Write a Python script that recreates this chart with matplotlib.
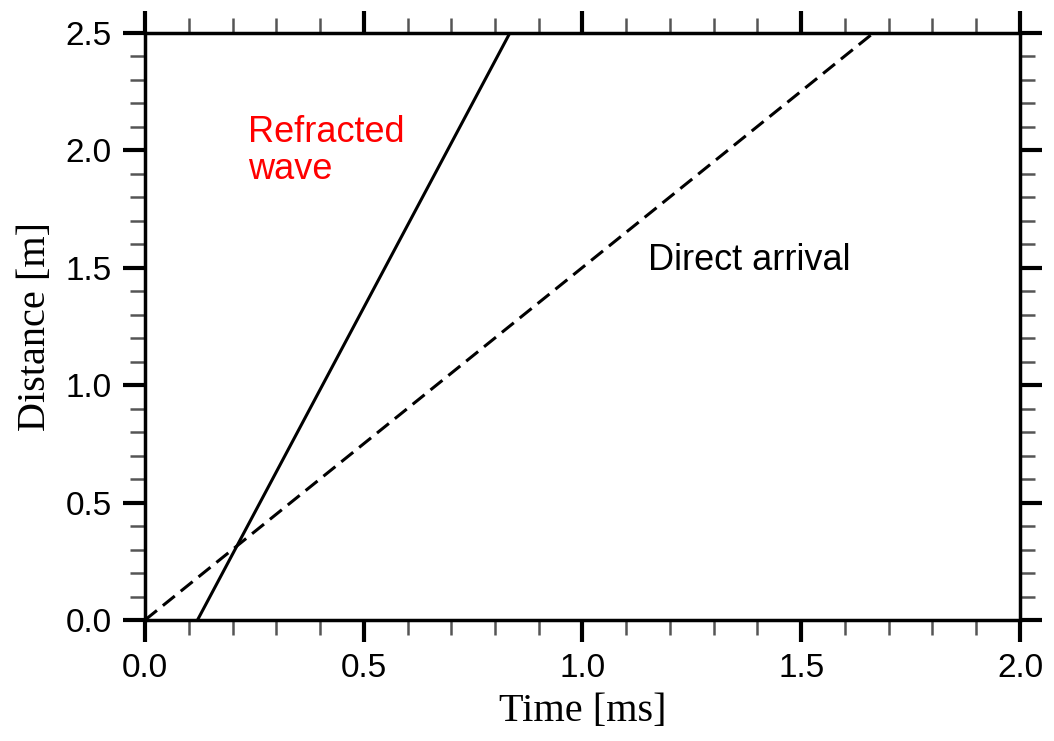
import matplotlib.pyplot as plt
from matplotlib.ticker import MultipleLocator

# arrival lines (time in ms, distance in m)
refracted_t = [0.12, 0.834]
refracted_x = [0.0, 2.5]
direct_t = [0.0, 1.665]
direct_x = [0.0, 2.5]

fig = plt.figure(figsize=(10.54, 7.41), dpi=100)
ax = fig.add_axes([0.1376, 0.1633, 0.8301, 0.7922])

ax.plot(refracted_t, refracted_x, color="black", lw=2.2)
ax.plot(direct_t, direct_x, color="black", lw=2.2, ls=(0, (5, 2.5)))

ax.set_xlim(0, 2.0)
ax.set_ylim(0, 2.5)
ax.xaxis.set_major_locator(MultipleLocator(0.5))
ax.xaxis.set_minor_locator(MultipleLocator(0.1))
ax.yaxis.set_major_locator(MultipleLocator(0.5))
ax.yaxis.set_minor_locator(MultipleLocator(0.1))
ax.xaxis.set_major_formatter(lambda v, p: f"{v:.1f}")
ax.yaxis.set_major_formatter(lambda v, p: f"{v:.1f}")

for s in ax.spines.values():
    s.set_linewidth(2.5)
ax.tick_params(which="major", direction="out", length=16, width=3,
               top=True, right=True, labelsize=24, pad=8)
ax.tick_params(which="minor", direction="out", length=11, width=1.8,
               top=True, right=True, color="#555555")
for lab in ax.get_xticklabels() + ax.get_yticklabels():
    lab.set_family("Liberation Sans")

ax.set_xlabel("Time [ms]", family="Liberation Serif", fontsize=29, labelpad=6)
ax.set_ylabel("Distance [m]", family="Liberation Serif", fontsize=29, labelpad=8)

ax.text(0.235, 1.88, "Refracted\nwave", color="red", fontsize=26,
        family="Liberation Sans", linespacing=1.05)
ax.text(1.15, 1.49, "Direct arrival", color="black", fontsize=26,
        family="Liberation Sans")

fig.savefig("out.png", dpi=100)
